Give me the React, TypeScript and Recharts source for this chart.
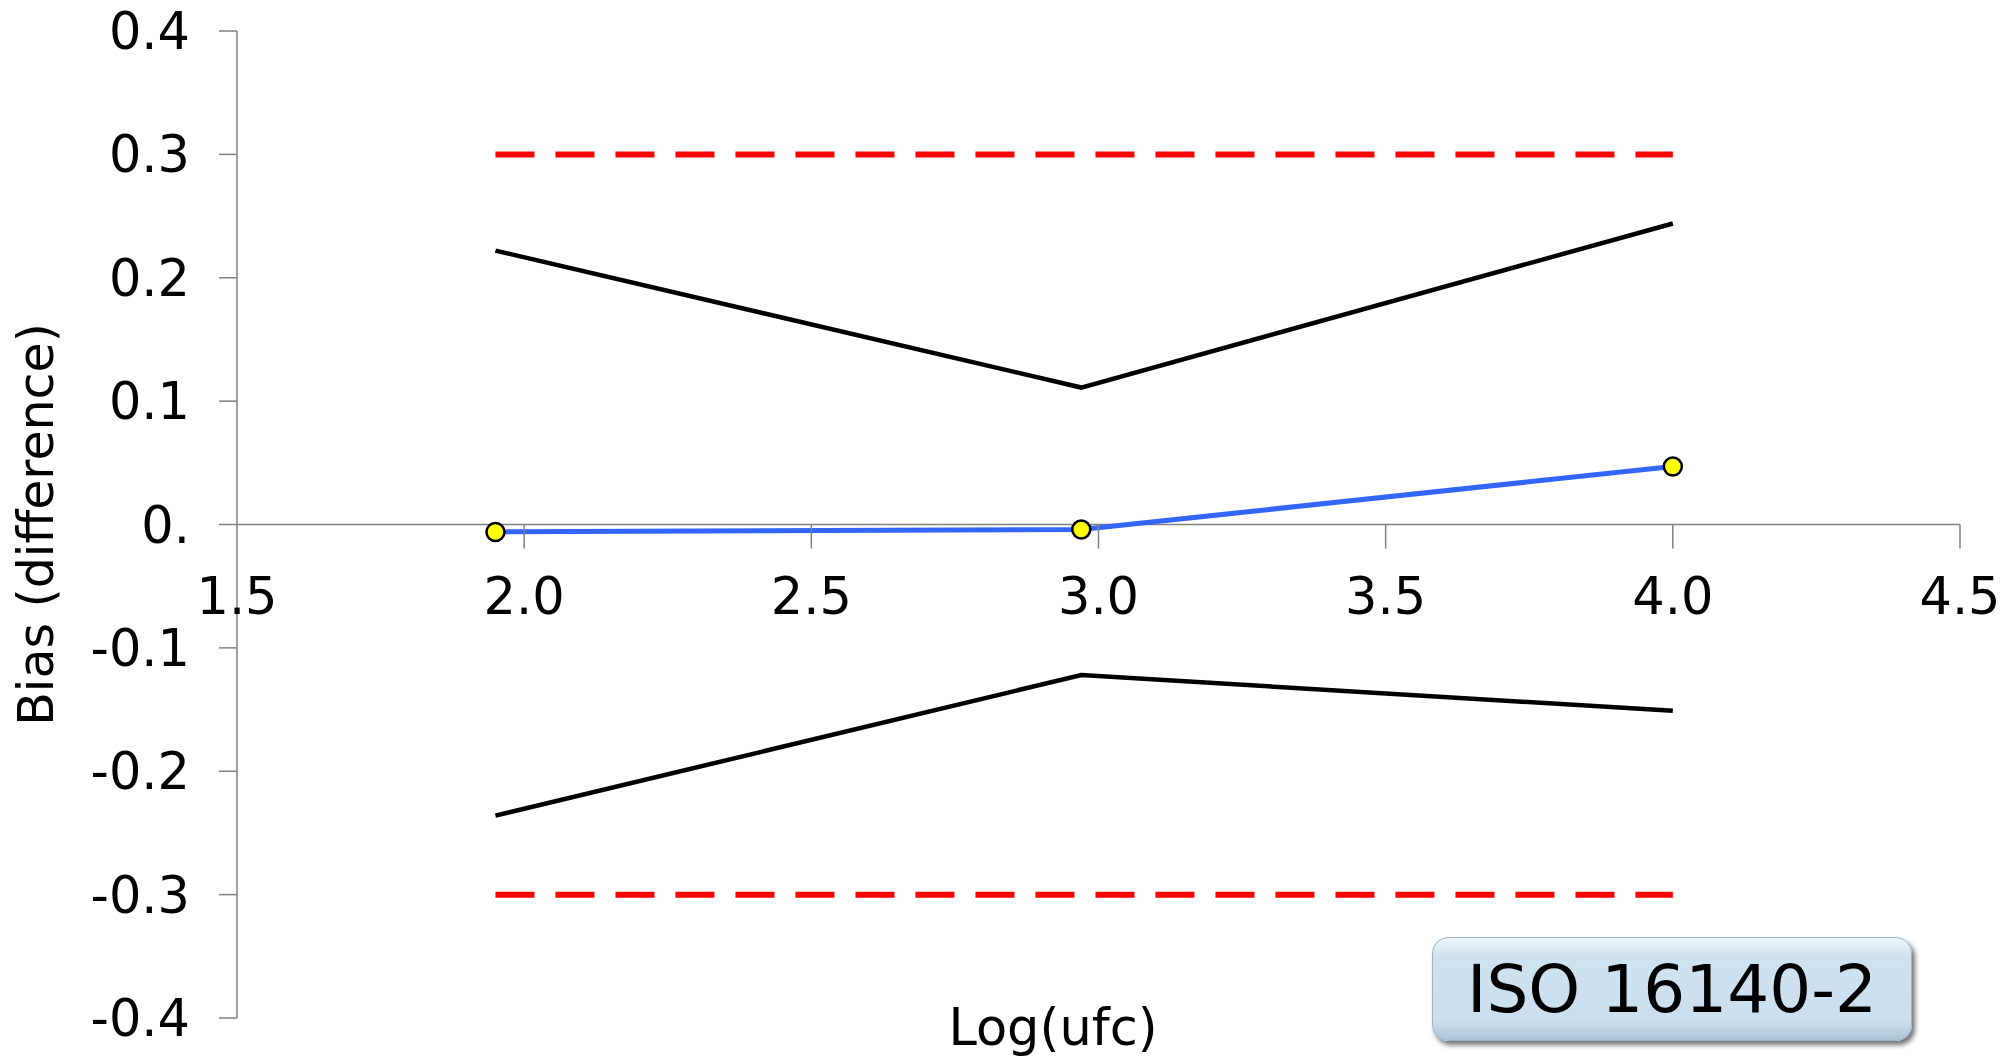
import React from 'react';
import { ComposedChart, Line, XAxis, YAxis, ReferenceLine, ReferenceDot, Label } from 'recharts';

// values
const logUfc = [1.95, 2.97, 4.0];
const biasValues = [-0.006, -0.004, 0.047];
const upperLimits = [0.222, 0.111, 0.244];
const lowerLimits = [-0.236, -0.122, -0.151];
const acceptabilityLimits = [0.3, 0.3, 0.3];

const xTicks = [1.5, 2.0, 2.5, 3.0, 3.5, 4.0, 4.5];
const xTickLabels = ['1.5', '2.0', '2.5', '3.0', '3.5', '4.0', '4.5'];
const yTicks = [-0.4, -0.3, -0.2, -0.1, 0, 0.1, 0.2, 0.3, 0.4];
const yTickLabels = ['-0.4', '-0.3', '-0.2', '-0.1', '0.', '0.1', '0.2', '0.3', '0.4'];

const FONT = '"DejaVu Sans", Verdana, sans-serif';
const AXIS = '#808080';

const data = logUfc.map((x, i) => ({
  x,
  bias: biasValues[i],
  upper: upperLimits[i],
  lower: lowerLimits[i],
  alUp: acceptabilityLimits[i],
  alLow: -acceptabilityLimits[i],
}));

const App: React.FC = () => {
  return (
    <div style={{ position: 'absolute', left: 0, top: 0, width: 2005, height: 1058, background: '#fff', fontFamily: FONT }}>
      <ComposedChart width={2005} height={1058} data={data} margin={{ top: 31, right: 45, bottom: 40, left: 0 }}>
        <XAxis type="number" dataKey="x" domain={[1.5, 4.5]} ticks={xTicks} hide allowDataOverflow />
        <YAxis
          type="number"
          domain={[-0.4, 0.4]}
          ticks={yTicks}
          width={237}
          interval={0}
          tickSize={18}
          tickMargin={29}
          axisLine={{ stroke: AXIS, strokeWidth: 1.5 }}
          tickLine={{ stroke: AXIS, strokeWidth: 1.5 }}
          tick={{ fill: '#000', fontSize: 51, fontFamily: FONT }}
          tickFormatter={(v: number) => yTickLabels[yTicks.indexOf(v)] ?? String(v)}
        >
          <Label
            content={({ viewBox }: any) => {
              const cx = viewBox.x + 36;
              const cy = viewBox.y + viewBox.height / 2;
              return (
                <text
                  x={cx}
                  y={cy}
                  transform={`rotate(-90, ${cx}, ${cy})`}
                  textAnchor="middle"
                  dominantBaseline="central"
                  fontSize={49}
                  fontFamily={FONT}
                  fill="#000"
                >
                  Bias (difference)
                </text>
              );
            }}
          />
        </YAxis>

        {/* x axis drawn along y = 0 */}
        <ReferenceLine y={0} stroke={AXIS} strokeWidth={1.5} ifOverflow="visible" />
        {xTicks.map((t, i) => (
          <ReferenceDot
            key={t}
            x={t}
            y={0}
            r={0}
            ifOverflow="visible"
            shape={(p: any) => (
              <g>
                {i > 0 && <line x1={p.cx} x2={p.cx} y1={p.cy} y2={p.cy + 24} stroke={AXIS} strokeWidth={1.5} />}
                <text
                  x={p.cx}
                  y={p.cy + 72}
                  textAnchor="middle"
                  dominantBaseline="central"
                  fontSize={51}
                  fontFamily={FONT}
                  fill="#000"
                >
                  {xTickLabels[i]}
                </text>
              </g>
            )}
          />
        ))}

        <Line dataKey="alUp" stroke="#ff0000" strokeWidth={6} strokeDasharray="39 21" dot={false} isAnimationActive={false} />
        <Line dataKey="alLow" stroke="#ff0000" strokeWidth={6} strokeDasharray="39 21" dot={false} isAnimationActive={false} />
        <Line dataKey="upper" type="linear" stroke="#000" strokeWidth={4.5} dot={false} isAnimationActive={false} />
        <Line dataKey="lower" type="linear" stroke="#000" strokeWidth={4.5} dot={false} isAnimationActive={false} />
        <Line
          dataKey="bias"
          type="linear"
          stroke="#3366ff"
          strokeWidth={5}
          dot={{ r: 9, fill: '#ffff00', stroke: '#000', strokeWidth: 2.5 }}
          isAnimationActive={false}
        />
      </ComposedChart>

      <div
        style={{
          position: 'absolute',
          left: 943,
          top: 1002,
          width: 220,
          textAlign: 'center',
          fontSize: 51,
          lineHeight: '51px',
          color: '#000',
        }}
      >
        Log(ufc)
      </div>

      <div
        style={{
          position: 'absolute',
          left: 1432,
          top: 937,
          width: 480,
          height: 104,
          boxSizing: 'border-box',
          borderRadius: 16,
          border: '1px solid #9fb3c2',
          background: 'linear-gradient(to bottom, #eef7fd 0%, #cfe2f0 18%, #cbdfee 82%, #a9c3d6 100%)',
          boxShadow: '3px 4px 5px rgba(0,0,0,0.55)',
          display: 'flex',
          alignItems: 'center',
          justifyContent: 'center',
          fontSize: 66,
          color: '#000',
        }}
      >
        ISO 16140-2
      </div>
    </div>
  );
};

export default App;
